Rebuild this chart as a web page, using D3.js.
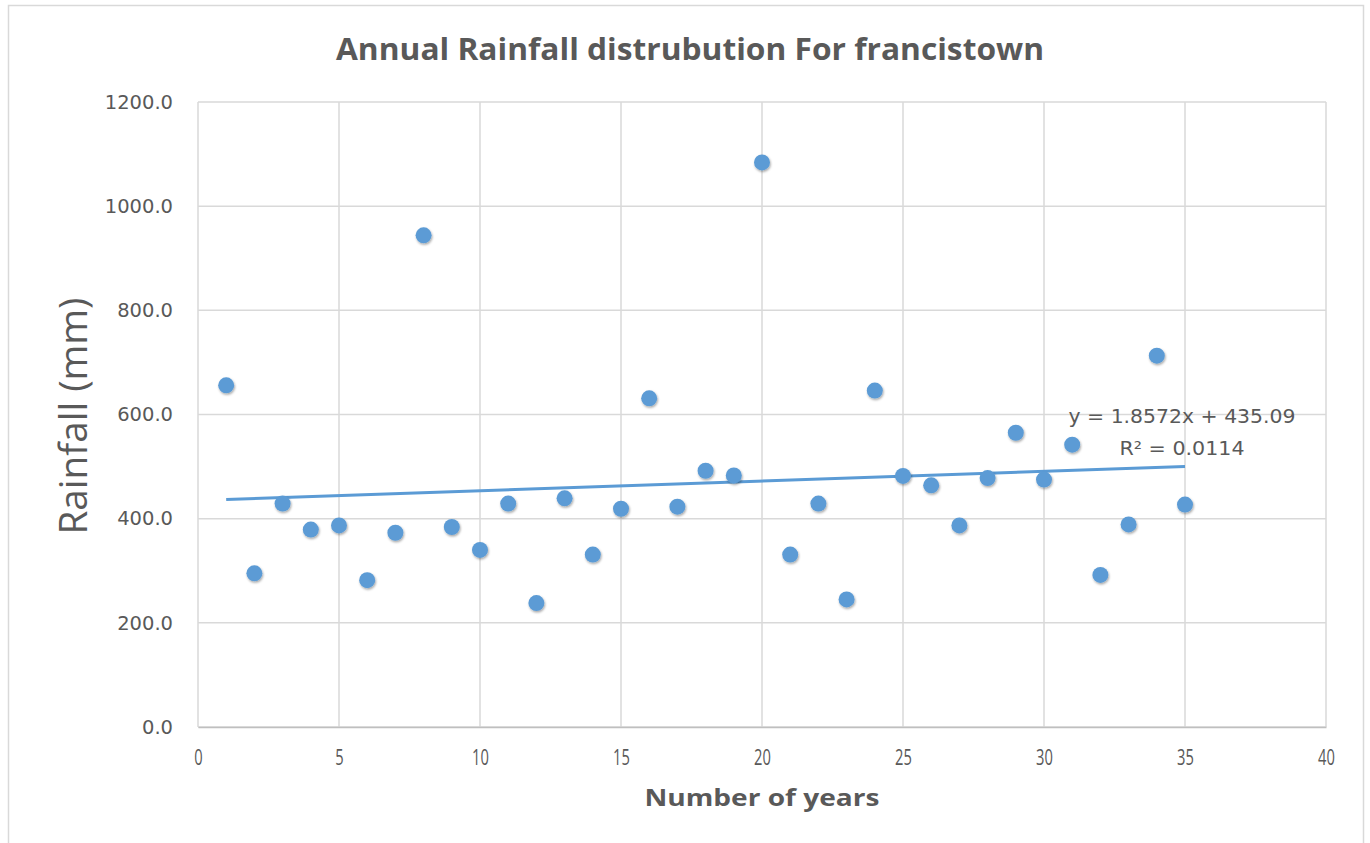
<!DOCTYPE html>
<html><head><meta charset="utf-8">
<script src="https://cdn.jsdelivr.net/npm/d3@7"></script>
<style>body{margin:0;background:#fff;} svg{display:block;}</style>
</head><body>
<script>
const years = [1,2,3,4,5,6,7,8,9,10,11,12,13,14,15,16,17,18,19,20,21,22,23,24,25,26,27,28,29,30,31,32,33,34,35];
const rainfall = [656,295,429,379,387,282,373,944,384,340,429,238,439,331,419,631,423,492,483,1084,331,429,245,646,482,464,387,478,565,475,542,292,389,713,427];
const xTicks = [0,5,10,15,20,25,30,35,40];
const yTicks = [0,200,400,600,800,1000,1200];
const trend = [1.8572, 435.09];
const trendLabel = ["y = 1.8572x + 435.09", "R² = 0.0114"];
const title = "Annual Rainfall distrubution For francistown";
const xTitle = "Number of years";
const yTitle = "Rainfall (mm)";

const W = 1370, H = 843;
const svg = d3.select("body").append("svg").attr("width", W).attr("height", H);
const defs = svg.append("defs");
const f = defs.append("filter").attr("id","sh").attr("x","-50%").attr("y","-50%").attr("width","200%").attr("height","200%");
f.append("feDropShadow").attr("dx",0.8).attr("dy",1.5).attr("stdDeviation",1.3).attr("flood-color","#000").attr("flood-opacity",0.35);

svg.append("rect").attr("x",8.5).attr("y",5.5).attr("width",1355).attr("height",845)
  .attr("fill","#fff").attr("stroke","#D9D9D9").attr("stroke-width",1.5);

const m = {l:198, r:1326, t:102, b:727};
const x = d3.scaleLinear().domain([0,40]).range([m.l, m.r]);
const y = d3.scaleLinear().domain([0,1200]).range([m.b, m.t]);
const gray = "#595959";

// grid
svg.append("g").selectAll("line").data(xTicks).join("line")
  .attr("x1",d=>x(d)).attr("x2",d=>x(d)).attr("y1",m.t).attr("y2",m.b)
  .attr("stroke","#D9D9D9").attr("stroke-width",1.5);
svg.append("g").selectAll("line").data(yTicks).join("line")
  .attr("x1",m.l).attr("x2",m.r).attr("y1",d=>y(d)).attr("y2",d=>y(d))
  .attr("stroke","#D9D9D9").attr("stroke-width",1.5);

// axes labels via d3 axes
const xAxis = svg.append("g").attr("transform",`translate(0,${m.b})`)
  .call(d3.axisBottom(x).tickValues(xTicks).tickSize(0).tickPadding(0));
xAxis.select(".domain").attr("stroke","#BFBFBF").attr("stroke-width",1.5);
xAxis.selectAll("text").attr("fill",gray).attr("font-family","'Open Sans', sans-serif").attr("font-size",21)
  .attr("dy",null).attr("y",38).attr("transform","scale(0.7,1)");

const yAxis = svg.append("g").attr("transform",`translate(${m.l},0)`)
  .call(d3.axisLeft(y).tickValues(yTicks).tickSize(0).tickPadding(25).tickFormat(d3.format(".1f")));
yAxis.select(".domain").remove();
yAxis.selectAll("text").attr("fill",gray).attr("font-family","'DejaVu Sans', sans-serif").attr("font-size",19.5);

// trendline
svg.append("line")
  .attr("x1",x(years[0])).attr("y1",y(trend[0]*years[0]+trend[1]))
  .attr("x2",x(years[years.length-1])).attr("y2",y(trend[0]*years[years.length-1]+trend[1]))
  .attr("stroke","#5B9BD5").attr("stroke-width",3);

// points
svg.append("g").selectAll("circle").data(years).join("circle")
  .attr("cx",(d)=>x(d)).attr("cy",(d,i)=>y(rainfall[i])).attr("r",8)
  .attr("fill","#5B9BD5").attr("filter","url(#sh)");

// trend label
svg.append("g").selectAll("text").data(trendLabel).join("text")
  .attr("x",1182).attr("y",(d,i)=>423+i*32).attr("text-anchor","middle")
  .attr("fill",gray).attr("font-family","'DejaVu Sans', sans-serif").attr("font-size",19)
  .attr("textLength",(d,i)=>i===0?227:125).attr("lengthAdjust","spacingAndGlyphs")
  .text(d=>d);

// titles
svg.append("text").attr("x",690).attr("y",60).attr("text-anchor","middle")
  .attr("fill",gray).attr("font-family","'Open Sans', sans-serif").attr("font-weight","bold").attr("font-size",31)
  .attr("textLength",708).attr("lengthAdjust","spacingAndGlyphs").text(title);
svg.append("text").attr("x",762).attr("y",806).attr("text-anchor","middle")
  .attr("fill",gray).attr("font-family","'Open Sans', sans-serif").attr("font-weight","bold").attr("font-size",24)
  .attr("textLength",235).attr("lengthAdjust","spacingAndGlyphs").text(xTitle);
svg.append("text").attr("transform","translate(87,416) rotate(-90)").attr("text-anchor","middle")
  .attr("fill",gray).attr("font-family","'Open Sans', sans-serif").attr("font-size",38)
  .attr("textLength",237).attr("lengthAdjust","spacingAndGlyphs")
  .text(yTitle);
</script>
</body></html>
